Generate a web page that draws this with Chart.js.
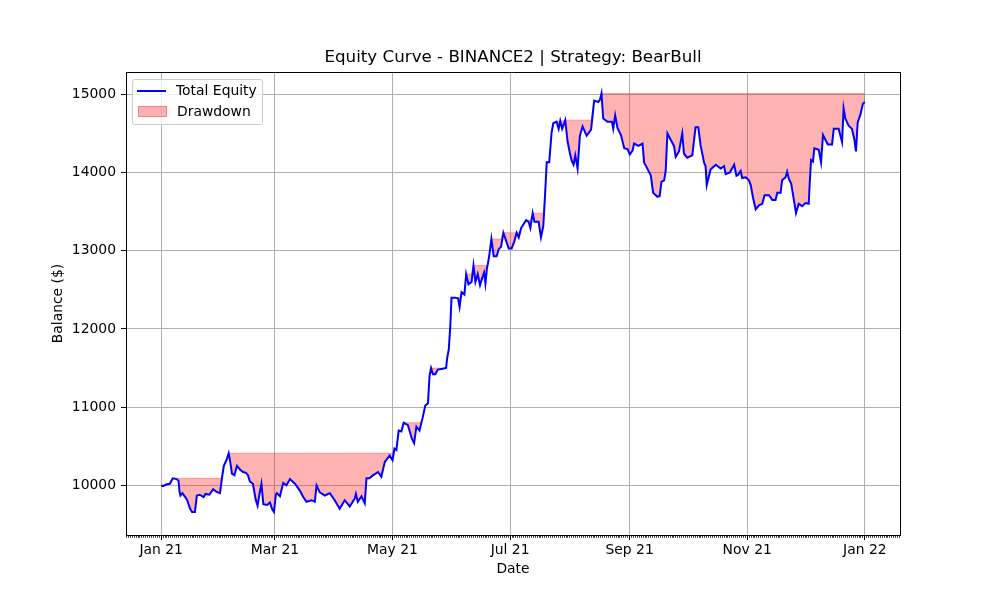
<!DOCTYPE html>
<html>
<head>
<meta charset="utf-8">
<script src="https://cdn.jsdelivr.net/npm/chart.js@4.4.1/dist/chart.umd.min.js"></script>
<style>
  html, body { margin: 0; padding: 0; background: #fff; }
  #wrap { position: relative; width: 1000px; height: 600px; }
  #legend {
    position: absolute; left: 132px; top: 79px; width: 129px; height: 44px;
    border: 1px solid #cccccc; border-radius: 3px; background: rgba(255,255,255,0.8);
    font-family: "DejaVu Sans", sans-serif; font-size: 13.9px; color: #000;
  }
  #legend .line { position: absolute; left: 4px; top: 10px; width: 29px; height: 2px; background: #0000ff; }
  #legend .patch { position: absolute; left: 5px; top: 26px; width: 27px; height: 9px;
    background: rgba(255,0,0,0.3); border: 1px solid rgba(255,0,0,0.3); }
  #legend .t1 { position: absolute; left: 43px; top: 2px; }
  #legend .t2 { position: absolute; left: 44px; top: 23px; }
</style>
</head>
<body>
<div id="wrap">
  <canvas id="equity-chart" width="1000" height="600"></canvas>
  <div id="legend">
    <div class="line"></div><span class="t1">Total Equity</span>
    <div class="patch"></div><span class="t2">Drawdown</span>
  </div>
</div>
<script>
// Days since 1 Jan 2021 and account balance
const days = [
  0, 1, 2.5, 4.5, 6, 8, 9, 9.5, 10, 11, 12.5, 13.5, 15, 16, 17.5, 18.5, 20, 22, 23, 25,
  27, 28.5, 30.5, 31.5, 32.5, 34, 35, 35.7, 36.7, 38, 39.3, 41, 42.5, 44, 45, 46, 47.6, 49, 50, 51,
  52, 53, 55, 56.4, 57.5, 58.5, 59.5, 60, 61.6, 63.3, 65, 66.8, 69.4, 72, 73.7, 75.4, 78, 79.7, 80.6, 82.3,
  84.9, 87.5, 90, 92.6, 95.2, 97.8, 100.4, 101, 102, 103.9, 105.6, 106.5, 108, 110, 112.5, 114.2, 116, 118.5, 120, 121,
  122, 123.2, 124.6, 125.8, 128, 130, 131.2, 132.4, 134, 135.5, 137, 138.4, 139.2, 140, 141, 142.2, 143.5, 146, 147.8, 148.3,
  149.2, 150, 150.6, 152.7, 154, 154.8, 155.8, 157.3, 158.2, 159.4, 161, 162, 163, 164.2, 165.4, 166.5, 167.5, 168.2, 169, 169.6,
  170.3, 171.3, 172.5, 174, 175.1, 176.3, 177.5, 178.9, 180.3, 181.8, 183.2, 184.4, 185.5, 186.7, 189.3, 190.6, 191.5, 192.7, 193.6, 195.8,
  197, 198.2, 199.1, 200, 201.3, 202.5, 203.4, 205.1, 206.2, 207, 208, 209.6, 210.8, 212, 213, 213.9, 214.8, 216, 217.2, 218.6,
  220.7, 223, 224.6, 226.7, 227.6, 228.4, 229.3, 231.5, 233.8, 234.5, 235.5, 236.7, 238.5, 240.2, 241.9, 243.1, 244.5, 245.3, 247.6, 249.7,
  250.5, 252.2, 254, 255.2, 257.4, 258.6, 259.5, 260.9, 261.7, 262.6, 264.3, 266, 266.9, 268.6, 270.3, 271.2, 272.9, 275.5, 277.2, 278.6,
  279.8, 281.6, 282.4, 283, 285, 287.7, 290.2, 292, 292.8, 295, 297.2, 298.4, 299.2, 300.6, 301.4, 303.2, 304.9, 305.8, 307, 308.4,
  310.1, 311.8, 313, 315.3, 317, 318.7, 319.6, 321.3, 322.1, 323.9, 324.7, 325.6, 326.8, 328.2, 329.3, 330.7, 332.5, 334.2, 335.9, 336.4,
  337.1, 338.1, 338.8, 341.1, 342.3, 343.3, 345.8, 348, 348.9, 351.4, 353.2, 354, 354.9, 356.6, 358.3, 359.6, 360.4, 361.3, 362.7, 364,
  365
];
const equity = [
  10000, 9990, 10010, 10020, 10090, 10080, 10060, 9920, 9870, 9900, 9850, 9810, 9700, 9660, 9660, 9870, 9880, 9850, 9890, 9880,
  9950, 9920, 9900, 10090, 10250, 10330, 10410, 10320, 10150, 10130, 10250, 10200, 10170, 10160, 10130, 10050, 10020, 9820, 9740, 9890,
  10020, 9760, 9750, 9780, 9700, 9660, 9880, 9900, 9860, 10030, 10000, 10080, 10020, 9930, 9850, 9790, 9810, 9790, 10000, 9910,
  9870, 9900, 9810, 9700, 9810, 9730, 9830, 9890, 9790, 9860, 9770, 10090, 10090, 10130, 10170, 10110, 10300, 10380, 10320, 10470,
  10450, 10700, 10690, 10800, 10770, 10600, 10540, 10750, 10700, 10850, 11020, 11050, 11400, 11500, 11420, 11420, 11480, 11490, 11500, 11620,
  11740, 12050, 12400, 12400, 12390, 12280, 12470, 12440, 12700, 12570, 12600, 12810, 12600, 12700, 12560, 12650, 12720, 12580, 12780, 12850,
  12960, 13150, 12930, 12930, 13020, 13050, 13230, 13130, 13030, 13030, 13120, 13230, 13170, 13290, 13390, 13370, 13290, 13480, 13370, 13370,
  13170, 13310, 13700, 14130, 14130, 14510, 14630, 14650, 14560, 14660, 14560, 14670, 14400, 14250, 14150, 14100, 14220, 14050, 14470, 14590,
  14470, 14550, 14920, 14900, 14930, 15010, 14690, 14650, 14650, 14560, 14730, 14570, 14480, 14310, 14300, 14230, 14280, 14370, 14340, 14370,
  14130, 14050, 13960, 13740, 13690, 13700, 13880, 13900, 14020, 14500, 14420, 14340, 14200, 14270, 14500, 14240, 14190, 14220, 14580, 14580,
  14350, 14130, 14080, 13840, 14040, 14100, 14050, 14080, 13980, 14000, 14100, 13960, 13970, 14020, 13930, 13940, 13900, 13840, 13680, 13530,
  13580, 13600, 13710, 13710, 13650, 13650, 13740, 13740, 13900, 13940, 14010, 13920, 13860, 13650, 13480, 13600, 13570, 13610, 13600, 13850,
  14160, 14140, 14310, 14290, 14130, 14480, 14360, 14360, 14560, 14560, 14390, 14820, 14690, 14600, 14560, 14420, 14270, 14640, 14740, 14880,
  14900
];

// Axis ticks
const tickDays = [0, 59, 120, 181, 243, 304, 365];
const tickLabels = ["Jan 21", "Mar 21", "May 21", "Jul 21", "Sep 21", "Nov 21", "Jan 22"];
const yTicks = [10000, 11000, 12000, 13000, 14000, 15000];

// Running peak for the drawdown band
const peak = [];
let best = -Infinity;
equity.forEach(v => { best = Math.max(best, v); peak.push(best); });

const xMin = -18.25, xMax = 383.25;
const font = { family: "DejaVu Sans", size: 13.9 };

Chart.defaults.font.family = "DejaVu Sans";
Chart.defaults.color = "#000";

new Chart(document.getElementById("equity-chart"), {
  type: "line",
  data: {
    datasets: [
      {
        label: "Total Equity",
        data: days.map((d, i) => ({ x: d, y: equity[i] })),
        borderColor: "#0000ff",
        borderWidth: 2,
        pointRadius: 0,
        tension: 0,
        fill: false,
      },
      {
        label: "Drawdown",
        data: days.map((d, i) => ({ x: d, y: peak[i] })),
        borderColor: "rgba(255,0,0,0.3)",
        borderWidth: 1,
        backgroundColor: "rgba(255,0,0,0.3)",
        pointRadius: 0,
        tension: 0,
        fill: 0,
      },
    ],
  },
  options: {
    responsive: false,
    animation: false,
    devicePixelRatio: 1,
    layout: { padding: { left: 26, right: 0, top: 0, bottom: 0 } },
    plugins: {
      legend: { display: false },
      tooltip: { enabled: false },
      title: {
        display: true,
        text: "Equity Curve - BINANCE2 | Strategy: BearBull",
        font: { family: "DejaVu Sans", size: 16.7, weight: "normal" },
        color: "#000",
        padding: { top: 48, bottom: 4 },
      },
    },
    scales: {
      x: {
        type: "linear",
        position: "bottom",
        weight: 1,
        min: xMin,
        max: xMax,
        afterBuildTicks: s => { s.ticks = tickDays.map(v => ({ value: v })); },
        afterFit: s => { s.height = 65; },
        ticks: {
          autoSkip: false,
          maxRotation: 0,
          padding: 2,
          font: font,
          callback: v => tickLabels[tickDays.indexOf(v)],
        },
        grid: { color: "#b0b0b0", lineWidth: 1, tickLength: 5, tickColor: "#000", tickWidth: 1 },
        border: { display: true, color: "#000", width: 1 },
        title: { display: true, text: "Date", font: font, padding: { top: 0, bottom: 22.7 } },
      },
      xMinor: {
        type: "linear",
        position: "bottom",
        weight: 0,
        min: xMin,
        max: xMax,
        afterBuildTicks: s => {
          const t = [];
          for (let d = Math.ceil(xMin); d <= xMax; d++) t.push({ value: d });
          s.ticks = t;
        },
        afterFit: s => { s.height = 0; },
        ticks: { display: false },
        grid: { drawOnChartArea: false, tickLength: 2.8, tickColor: "#000", tickWidth: 0.8 },
        border: { display: false },
      },
      xTop: {
        type: "linear",
        position: "top",
        min: xMin,
        max: xMax,
        afterFit: s => { s.height = 0; },
        ticks: { display: false },
        grid: { display: false, drawTicks: false },
        border: { display: true, color: "#000", width: 1 },
      },
      y: {
        type: "linear",
        position: "left",
        min: 9365,
        max: 15285,
        afterBuildTicks: s => { s.ticks = yTicks.map(v => ({ value: v })); },
        afterFit: s => { s.width = 100; },
        ticks: { padding: 5, font: font, callback: v => String(v) },
        grid: { color: "#b0b0b0", lineWidth: 1, tickLength: 5, tickColor: "#000", tickWidth: 1 },
        border: { display: true, color: "#000", width: 1 },
        title: { display: true, text: "Balance ($)", font: font, padding: { top: 23.7, bottom: 0 } },
      },
      yRight: {
        type: "linear",
        position: "right",
        min: 9365,
        max: 15285,
        afterFit: s => { s.width = 100; },
        ticks: { display: false },
        grid: { display: false, drawTicks: false },
        border: { display: true, color: "#000", width: 1 },
      },
    },
  },
});
</script>
</body>
</html>
